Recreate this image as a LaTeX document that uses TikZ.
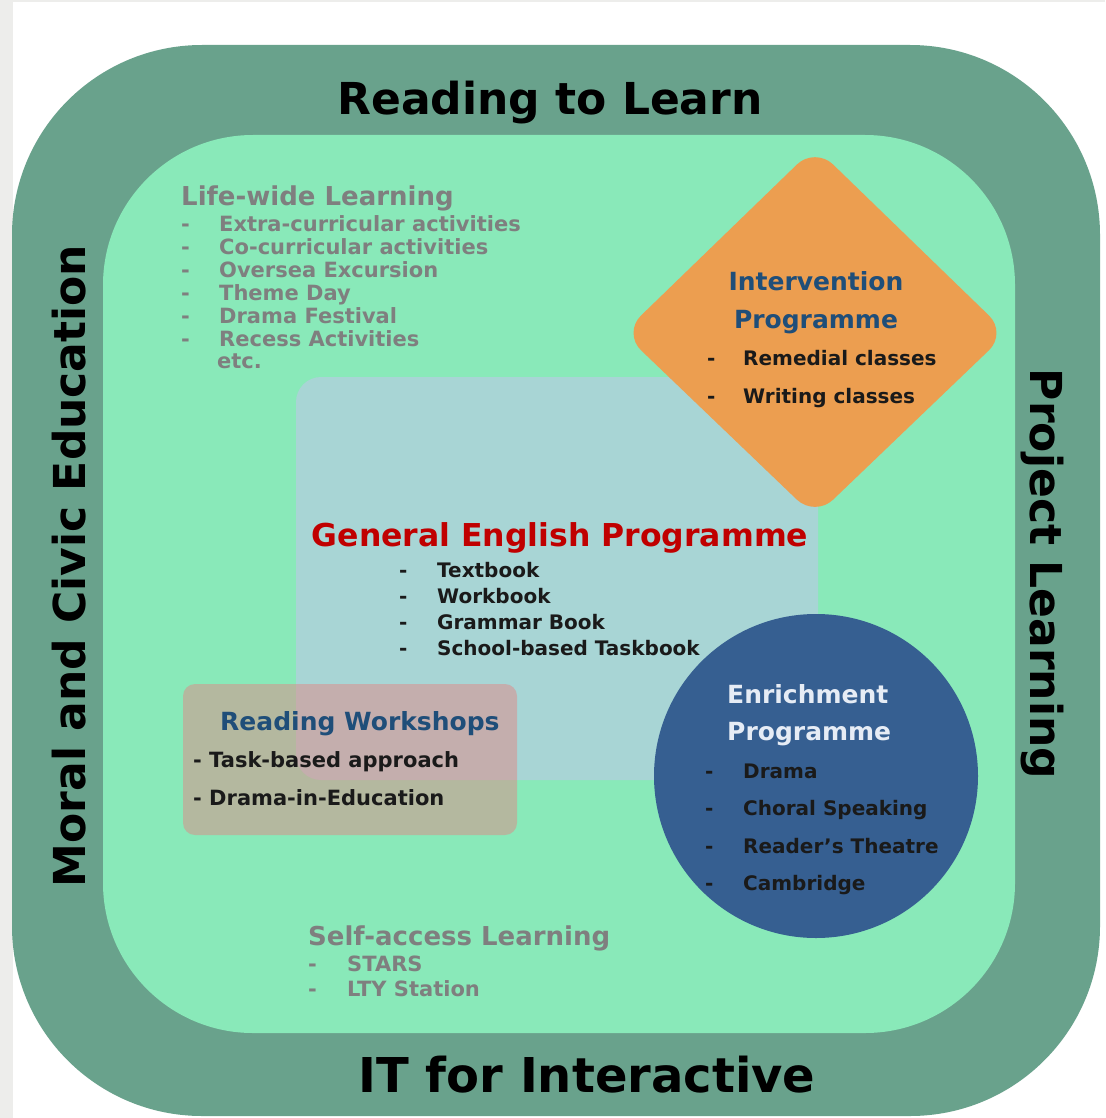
\documentclass[tikz,border=0pt]{standalone}
\usepackage{fontspec}
\setmainfont{DejaVu Sans}
\usepackage{tikz}
\definecolor{pagegray}{HTML}{EDEDEB}
\definecolor{ringgreen}{HTML}{69A28C}
\definecolor{fieldgreen}{HTML}{89E9B9}
\definecolor{corebox}{HTML}{A8D5D5}
\definecolor{interorange}{HTML}{EC9E50}
\definecolor{enrichblue}{HTML}{365F91}
\definecolor{workshoppink}{HTML}{E08886}
\definecolor{softgray}{HTML}{7F7F7F}
\definecolor{titleblue}{HTML}{1F4E79}
\definecolor{coreRed}{HTML}{C00000}
\definecolor{inkblack}{HTML}{1A1A1A}
\definecolor{paleblue}{HTML}{E6ECF5}
\tikzset{big/.style={inner sep=0pt, text=black, font=\fontsize{44}{50}\selectfont\bfseries, anchor=base}}
\tikzset{gtitle/.style={inner sep=0pt, text=softgray, font=\fontsize{26}{30}\selectfont\bfseries, anchor=base west}}
\tikzset{gitem/.style={inner sep=0pt, text=softgray, font=\fontsize{21}{24}\selectfont\bfseries, anchor=base west}}
\tikzset{btitle/.style={inner sep=0pt, text=titleblue, font=\fontsize{25}{30}\selectfont\bfseries}}
\tikzset{bitem/.style={inner sep=0pt, text=inkblack, font=\fontsize{20}{24}\selectfont\bfseries, anchor=base west}}

\begin{document}
\begin{tikzpicture}[x=1pt,y=-1pt]
        \useasboundingbox (0,0) rectangle (1105,1118);
        % Page
        \fill[white] (0,0) rectangle (1105,1118);
        \fill[pagegray] (0,0) rectangle (13,1118);
        \fill[pagegray] (0,0) rectangle (1105,2);
        % Rings
        \fill[ringgreen, rounded corners=190pt] (12,45) rectangle (1100,1116);
        \fill[fieldgreen, rounded corners=150pt] (103,135) rectangle (1015,1033);
        % Core, intervention, enrichment, workshops
        \fill[corebox, rounded corners=25pt] (296,377) rectangle (818,780);
        \fill[interorange, rounded corners=25pt] (815,147) -- (1007,333) -- (815,517) -- (623,333) -- cycle;
        \fill[enrichblue] (816,776) circle (162pt);
        \fill[workshoppink, fill opacity=.5, rounded corners=12pt] (183,684) rectangle (517,835);

        % Outer ring labels
        \node[big] (rtl) at (550,115) {Reading to Learn};
        \node[big, font=\fontsize{48}{52}\selectfont\bfseries] (ifi) at (587,1092) {IT for Interactive};
        \node[big, rotate=90] (mce) at (85,566) {Moral and Civic Education};
        \node[big, rotate=-90] (pl) at (1030,574) {Project Learning};

        % Life-wide Learning
        \node[gtitle] (lw) at (181,205) {Life-wide Learning};
        \foreach \txt [count=\i] in {Extra-curricular activities, Co-curricular activities,
          Oversea Excursion, Theme Day, Drama Festival, Recess Activities} {
          \node[gitem] (lw-d\i) at (181,208.7+23*\i) {-};
          \node[gitem] (lw-\i) at (219,208.7+23*\i) {\txt};
        }
        \node[gitem] (lw-etc) at (217,368) {etc.};

        % Intervention Programme
        \node[btitle, anchor=base] (iv1) at (816,290) {Intervention};
        \node[btitle, anchor=base] (iv2) at (816,328) {Programme};
        \foreach \txt/\y in {Remedial classes/365, Writing classes/403} {
          \node[bitem] (iv-d\y) at (707,\y) {-};
          \node[bitem] (iv-\y) at (743,\y) {\txt};
        }

        % General English Programme
        \node[btitle, anchor=base, text=coreRed, font=\fontsize{31.5}{36}\selectfont\bfseries] (gep) at (560,546) {General English Programme};
        \foreach \txt [count=\i] in {Textbook, Workbook, Grammar Book, School-based Taskbook} {
          \node[bitem] (gep-d\i) at (399,551.8+25.8*\i) {-};
          \node[bitem] (gep-\i) at (437,551.8+25.8*\i) {\txt};
        }

        % Enrichment Programme
        \node[btitle, anchor=base west, text=paleblue] (en1) at (727,703) {Enrichment};
        \node[btitle, anchor=base west, text=paleblue] (en2) at (727,740) {Programme};
        \foreach \txt [count=\i] in {Drama, Choral Speaking, Reader's Theatre, Cambridge} {
          \node[bitem] (en-d\i) at (705,741.5+37.2*\i) {-};
          \node[bitem] (en-\i) at (743,741.5+37.2*\i) {\txt};
        }

        % Reading Workshops
        \node[btitle, anchor=base west] (rw) at (220,730) {Reading Workshops};
        \node[bitem, font=\fontsize{21}{24}\selectfont\bfseries] (rw-1) at (193,767) {- Task-based approach};
        \node[bitem, font=\fontsize{21}{24}\selectfont\bfseries] (rw-2) at (193,805) {- Drama-in-Education};

        % Self-access Learning
        \node[gtitle] (sa) at (308,945) {Self-access Learning};
        \foreach \txt [count=\i] in {STARS, LTY Station} {
          \node[gitem] (sa-d\i) at (308,946.7+25*\i) {-};
          \node[gitem] (sa-\i) at (347,946.7+25*\i) {\txt};
        }
\end{tikzpicture}
\end{document}
